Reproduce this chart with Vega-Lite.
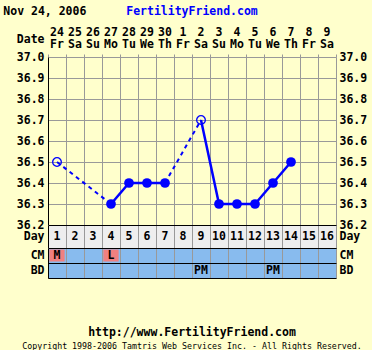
{
 "$schema": "https://vega.github.io/schema/vega-lite/v6.json",
 "background": "#FFFFCC",
 "padding": {"left": 3, "top": 5, "right": 5, "bottom": 2},
 "title": {"text": "Nov 24, 2006", "anchor": "start", "frame": "bounds", "dx": -13, "offset": -12},
 "datasets": {
  "days": [
   {"day": 1, "date": "24", "wd": "Fr", "CM": "M", "BD": null},
   {"day": 2, "date": "25", "wd": "Sa", "CM": null, "BD": null},
   {"day": 3, "date": "26", "wd": "Su", "CM": null, "BD": null},
   {"day": 4, "date": "27", "wd": "Mo", "CM": "L", "BD": null},
   {"day": 5, "date": "28", "wd": "Tu", "CM": null, "BD": null},
   {"day": 6, "date": "29", "wd": "We", "CM": null, "BD": null},
   {"day": 7, "date": "30", "wd": "Th", "CM": null, "BD": null},
   {"day": 8, "date": "1", "wd": "Fr", "CM": null, "BD": null},
   {"day": 9, "date": "2", "wd": "Sa", "CM": null, "BD": "PM"},
   {"day": 10, "date": "3", "wd": "Su", "CM": null, "BD": null},
   {"day": 11, "date": "4", "wd": "Mo", "CM": null, "BD": null},
   {"day": 12, "date": "5", "wd": "Tu", "CM": null, "BD": null},
   {"day": 13, "date": "6", "wd": "We", "CM": null, "BD": "PM"},
   {"day": 14, "date": "7", "wd": "Th", "CM": null, "BD": null},
   {"day": 15, "date": "8", "wd": "Fr", "CM": null, "BD": null},
   {"day": 16, "date": "9", "wd": "Sa", "CM": null, "BD": null}
  ],
  "temps": [
   {"day": 1, "temp": 36.5, "open": true},
   {"day": 4, "temp": 36.3, "open": false},
   {"day": 5, "temp": 36.4, "open": false},
   {"day": 6, "temp": 36.4, "open": false},
   {"day": 7, "temp": 36.4, "open": false},
   {"day": 9, "temp": 36.7, "open": true},
   {"day": 10, "temp": 36.3, "open": false},
   {"day": 11, "temp": 36.3, "open": false},
   {"day": 12, "temp": 36.3, "open": false},
   {"day": 13, "temp": 36.4, "open": false},
   {"day": 14, "temp": 36.5, "open": false}
  ],
  "segs": [
   {"seg": "a", "style": "dashed", "day": 1, "temp": 36.5},
   {"seg": "a", "style": "dashed", "day": 4, "temp": 36.3},
   {"seg": "b", "style": "solid", "day": 4, "temp": 36.3},
   {"seg": "b", "style": "solid", "day": 5, "temp": 36.4},
   {"seg": "b", "style": "solid", "day": 6, "temp": 36.4},
   {"seg": "b", "style": "solid", "day": 7, "temp": 36.4},
   {"seg": "c", "style": "dashed", "day": 7, "temp": 36.4},
   {"seg": "c", "style": "dashed", "day": 9, "temp": 36.7},
   {"seg": "d", "style": "solid", "day": 9, "temp": 36.7},
   {"seg": "d", "style": "solid", "day": 10, "temp": 36.3},
   {"seg": "d", "style": "solid", "day": 11, "temp": 36.3},
   {"seg": "d", "style": "solid", "day": 12, "temp": 36.3},
   {"seg": "d", "style": "solid", "day": 13, "temp": 36.4},
   {"seg": "d", "style": "solid", "day": 14, "temp": 36.5}
  ]
 },
 "spacing": 6,
 "bounds": "flush",
 "resolve": {"scale": {"x": "shared"}},
 "vconcat": [
  {
   "width": 288, "height": 24,
   "title": {"text": "FertilityFriend.com", "color": "#0000FF", "anchor": "middle", "offset": 10},
   "data": {"name": "days"},
   "transform": [{"fold": ["date", "wd"], "as": ["line", "label"]}],
   "mark": {"type": "text"},
   "encoding": {
    "x": {"field": "day", "type": "ordinal", "scale": {"type": "band", "paddingInner": 0, "paddingOuter": 0}, "axis": null},
    "y": {"field": "line", "type": "nominal", "sort": ["date", "wd"], "scale": {"type": "band", "paddingInner": 0, "paddingOuter": 0},
      "axis": {"title": "Date", "titleAngle": 0, "titleAlign": "right", "titleBaseline": "middle", "labels": false, "ticks": false, "domain": false, "titlePadding": 4}},
    "text": {"field": "label"}
   }
  },
  {
   "spacing": 0,
   "bounds": "flush",
   "resolve": {"scale": {"x": "shared"}},
   "vconcat": [
    {
     "width": 288, "height": 168,
     "layer": [
      {
       "data": {"name": "segs"},
       "transform": [{"filter": "datum.style === 'dashed'"}],
       "mark": {"type": "line", "color": "#0000FF", "strokeWidth": 2, "strokeDash": [4, 4]},
       "encoding": {
        "x": {"field": "day", "type": "ordinal", "scale": {"type": "band", "paddingInner": 0, "paddingOuter": 0},
          "axis": {"orient": "top", "labels": false, "ticks": true, "tickSize": 3, "tickColor": "#999999", "tickBand": "extent", "grid": true, "gridColor": "#999999", "gridOpacity": 1, "domain": false, "title": null}},
        "y": {"field": "temp", "type": "quantitative", "scale": {"domain": [36.2, 37.0], "nice": false, "zero": false},
          "axis": {"orient": "left", "values": [36.2, 36.3, 36.4, 36.5, 36.6, 36.7, 36.8, 36.9, 37.0], "format": ".1f", "grid": true, "gridColor": "#999999", "gridOpacity": 1, "ticks": false, "domain": true, "domainColor": "#000000", "title": null, "labelPadding": 4}},
        "detail": {"field": "seg"}
       }
      },
      {
       "data": {"name": "segs"},
       "transform": [{"filter": "datum.style === 'solid'"}],
       "mark": {"type": "line", "color": "#0000FF", "strokeWidth": 2.5},
       "encoding": {
        "x": {"field": "day", "type": "ordinal", "scale": {"type": "band", "paddingInner": 0, "paddingOuter": 0},
          "axis": {"orient": "top", "labels": false, "ticks": true, "tickSize": 3, "tickColor": "#999999", "tickBand": "extent", "grid": true, "gridColor": "#999999", "gridOpacity": 1, "domain": false, "title": null}},
        "y": {"field": "temp", "type": "quantitative", "scale": {"domain": [36.2, 37.0], "nice": false, "zero": false},
          "axis": {"orient": "right", "values": [36.2, 36.3, 36.4, 36.5, 36.6, 36.7, 36.8, 36.9, 37.0], "format": ".1f", "grid": false, "ticks": false, "domain": false, "title": null, "labelPadding": 3}},
        "detail": {"field": "seg"}
       }
      },
      {
       "data": {"name": "temps"},
       "transform": [{"filter": "datum.open"}],
       "mark": {"type": "point", "shape": "circle", "filled": false, "color": "#0000FF", "size": 75, "strokeWidth": 1.3, "opacity": 1},
       "encoding": {
        "x": {"field": "day", "type": "ordinal", "scale": {"type": "band", "paddingInner": 0, "paddingOuter": 0},
          "axis": {"orient": "top", "labels": false, "ticks": true, "tickSize": 3, "tickColor": "#999999", "tickBand": "extent", "grid": true, "gridColor": "#999999", "gridOpacity": 1, "domain": false, "title": null}},
        "y": {"field": "temp", "type": "quantitative", "scale": {"domain": [36.2, 37.0], "nice": false, "zero": false}, "axis": null}
       }
      },
      {
       "data": {"name": "temps"},
       "transform": [{"filter": "!datum.open"}],
       "mark": {"type": "circle", "color": "#0000FF", "size": 95, "opacity": 1},
       "encoding": {
        "x": {"field": "day", "type": "ordinal", "scale": {"type": "band", "paddingInner": 0, "paddingOuter": 0},
          "axis": {"orient": "top", "labels": false, "ticks": true, "tickSize": 3, "tickColor": "#999999", "tickBand": "extent", "grid": true, "gridColor": "#999999", "gridOpacity": 1, "domain": false, "title": null}},
        "y": {"field": "temp", "type": "quantitative", "scale": {"domain": [36.2, 37.0], "nice": false, "zero": false}, "axis": null}
       }
      }
     ],
     "resolve": {"axis": {"y": "independent"}}
    },
    {
     "width": 288, "height": 23,
     "data": {"name": "days"},
     "layer": [
      {
       "mark": {"type": "rect", "fill": "#EEEEEE"},
       "encoding": {
        "x": {"field": "day", "type": "ordinal", "scale": {"type": "band", "paddingInner": 0, "paddingOuter": 0},
          "axis": {"orient": "bottom", "labels": false, "ticks": false, "domain": false, "grid": true, "gridColor": "#999999", "gridOpacity": 1, "tickBand": "extent", "zindex": 1, "title": null}},
        "y": {"datum": "Day", "type": "nominal", "scale": {"type": "band", "paddingInner": 0, "paddingOuter": 0},
          "axis": {"orient": "left", "title": null, "ticks": false, "domain": true, "domainColor": "#000000", "grid": true, "gridColor": "#000000", "gridOpacity": 1, "tickBand": "extent", "zindex": 1, "labelPadding": 4}}
       }
      },
      {
       "mark": {"type": "text"},
       "encoding": {
        "x": {"field": "day", "type": "ordinal", "scale": {"type": "band", "paddingInner": 0, "paddingOuter": 0},
          "axis": {"orient": "bottom", "labels": false, "ticks": false, "domain": false, "grid": true, "gridColor": "#999999", "gridOpacity": 1, "tickBand": "extent", "zindex": 1, "title": null}},
        "y": {"datum": "Day", "type": "nominal", "scale": {"type": "band", "paddingInner": 0, "paddingOuter": 0},
          "axis": {"orient": "right", "title": null, "ticks": false, "domain": false, "grid": false, "labelPadding": 3}},
        "text": {"field": "day"}
       }
      }
     ],
     "resolve": {"axis": {"y": "independent"}}
    },
    {
     "width": 288, "height": 30,
     "title": {"text": "http://www.FertilityFriend.com", "subtitle": "Copyright 1998-2006 Tamtris Web Services Inc. - All Rights Reserved.", "orient": "bottom", "anchor": "middle", "offset": 49, "subtitleFontSize": 8.3, "subtitleFontWeight": "normal", "subtitleColor": "#000000", "subtitleFont": "DejaVu Sans Mono", "subtitlePadding": 3},
     "data": {"name": "days"},
     "transform": [{"fold": ["CM", "BD"], "as": ["row", "mark"]}],
     "layer": [
      {
       "mark": {"type": "rect", "fill": "#88BBEE"},
       "encoding": {
        "x": {"field": "day", "type": "ordinal", "scale": {"type": "band", "paddingInner": 0, "paddingOuter": 0},
          "axis": {"orient": "bottom", "labels": false, "ticks": false, "domain": false, "grid": true, "gridColor": "#999999", "gridOpacity": 1, "tickBand": "extent", "zindex": 1, "title": null}},
        "y": {"field": "row", "type": "nominal", "sort": ["CM", "BD"], "scale": {"type": "band", "paddingInner": 0, "paddingOuter": 0},
          "axis": {"orient": "left", "title": null, "ticks": false, "domain": true, "domainColor": "#000000", "grid": true, "gridColor": "#000000", "gridOpacity": 1, "tickBand": "extent", "zindex": 1, "labelPadding": 4}}
       }
      },
      {
       "transform": [{"filter": "datum.row === 'CM' && datum.mark != null"}],
       "mark": {"type": "rect", "fill": "#F08080", "width": {"band": 0.85}, "height": {"band": 0.8}},
       "encoding": {
        "x": {"field": "day", "type": "ordinal", "scale": {"type": "band", "paddingInner": 0, "paddingOuter": 0},
          "axis": {"orient": "bottom", "labels": false, "ticks": false, "domain": false, "grid": true, "gridColor": "#999999", "gridOpacity": 1, "tickBand": "extent", "zindex": 1, "title": null}},
        "y": {"field": "row", "type": "nominal", "sort": ["CM", "BD"], "scale": {"type": "band", "paddingInner": 0, "paddingOuter": 0}, "axis": null}
       }
      },
      {
       "transform": [{"filter": "datum.mark != null"}],
       "mark": {"type": "text"},
       "encoding": {
        "x": {"field": "day", "type": "ordinal", "scale": {"type": "band", "paddingInner": 0, "paddingOuter": 0},
          "axis": {"orient": "bottom", "labels": false, "ticks": false, "domain": false, "grid": true, "gridColor": "#999999", "gridOpacity": 1, "tickBand": "extent", "zindex": 1, "title": null}},
        "y": {"field": "row", "type": "nominal", "sort": ["CM", "BD"], "scale": {"type": "band", "paddingInner": 0, "paddingOuter": 0}, "axis": null},
        "text": {"field": "mark"}
       }
      },
      {
       "mark": {"type": "text", "opacity": 0},
       "encoding": {
        "x": {"field": "day", "type": "ordinal", "scale": {"type": "band", "paddingInner": 0, "paddingOuter": 0},
          "axis": {"orient": "bottom", "labels": false, "ticks": false, "domain": false, "grid": true, "gridColor": "#999999", "gridOpacity": 1, "tickBand": "extent", "zindex": 1, "title": null}},
        "y": {"field": "row", "type": "nominal", "sort": ["CM", "BD"], "scale": {"type": "band", "paddingInner": 0, "paddingOuter": 0},
          "axis": {"orient": "right", "title": null, "ticks": false, "domain": false, "grid": false, "labelPadding": 3}}
       }
      }
     ],
     "resolve": {"axis": {"y": "independent"}}
    }
   ]
  }
 ],
 "config": {
  "font": "DejaVu Sans Mono",
  "view": {"stroke": null},
  "axis": {"labelFont": "DejaVu Sans Mono", "labelFontSize": 11.5, "labelFontWeight": "bold", "labelColor": "#000000", "titleFont": "DejaVu Sans Mono", "titleFontSize": 11.5, "titleFontWeight": "bold", "titleColor": "#000000"},
  "text": {"font": "DejaVu Sans Mono", "fontSize": 11.5, "fontWeight": "bold", "color": "#000000"},
  "title": {"font": "DejaVu Sans Mono", "fontSize": 11.5, "fontWeight": "bold", "color": "#000000"}
 }
}
